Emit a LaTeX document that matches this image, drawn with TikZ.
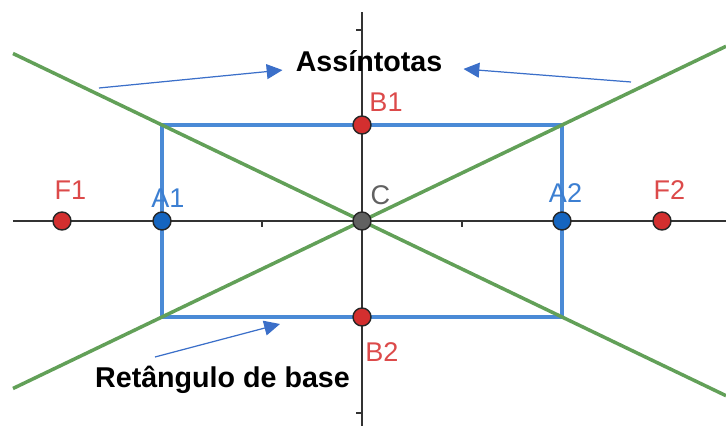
\documentclass[tikz,border=0pt]{standalone}
\usepackage{fontspec}
\setmainfont{Liberation Sans}
\usetikzlibrary{arrows.meta,calc,positioning}
\definecolor{ink}{HTML}{333333}
\definecolor{rectblue}{HTML}{4A8AD6}
\definecolor{ptblue}{HTML}{1565C0}
\definecolor{lblblue}{HTML}{3C7FD2}
\definecolor{ptred}{HTML}{D32F2F}
\definecolor{lblred}{HTML}{DC4A4A}
\definecolor{ptgray}{HTML}{616161}
\definecolor{asymgreen}{HTML}{62A058}
\definecolor{arrowblue}{HTML}{3B6FC9}
\tikzset{>=Latex,line width=.8pt,
  every node/.style={font=\fontsize{15.4pt}{18pt}\selectfont},
  axis/.style={draw=ink,line width=1.1pt},
  tick/.style={draw=ink,line width=.9pt},
  asym/.style={draw=asymgreen,line width=2pt},
  baserect/.style={draw=rectblue,line width=2.2pt},
  marker/.style={circle,draw=black!85,line width=.8pt,inner sep=0pt,minimum size=.36cm},
  ptlabel/.style={anchor=base,inner sep=0pt},
  callout/.style={anchor=base,inner sep=0pt,font=\fontsize{16.3pt}{19pt}\selectfont\bfseries},
  pointer/.style={-{Triangle[length=9pt,width=8.5pt]},draw=arrowblue,line width=.7pt}}
\begin{document}
\begin{tikzpicture}[x=2cm,y=2cm]
\useasboundingbox (-3.62,-2.05) rectangle (3.64,2.21);
% axes
\draw[axis] (-3.49,0)--(3.64,0);
\draw[axis] (0,-2.05)--(0,2.09);
\foreach \x in {-1,1} {\draw[tick] (\x,0)--(\x,-.06);}
\foreach \y in {-1.92,1.91} {\draw[tick] (0,\y)--(-.06,\y);}
% base rectangle and asymptotes
\draw[baserect] (-2,-.96) rectangle (2,.96);
\draw[asym] (-3.49,1.675)--(3.64,-1.747);
\draw[asym] (-3.49,-1.675)--(3.64,1.747);
% points
\node[marker,fill=ptred] (F1) at (-3,0) {};
\node[marker,fill=ptblue] (A1) at (-2,0) {};
\node[marker,fill=ptgray] (C) at (0,0) {};
\node[marker,fill=ptblue] (A2) at (2,0) {};
\node[marker,fill=ptred] (F2) at (3,0) {};
\node[marker,fill=ptred] (B1) at (0,.96) {};
\node[marker,fill=ptred] (B2) at (0,-.96) {};
\node[ptlabel,lblred] (F1lab) at (-2.915,.21) {F1};
\node[ptlabel,lblblue] (A1lab) at (-1.94,.13) {A1};
\node[ptlabel,ptgray] (Clab) at (.185,.16) {C};
\node[ptlabel,lblblue] (A2lab) at (2.035,.18) {A2};
\node[ptlabel,lblred] (F2lab) at (3.075,.21) {F2};
\node[ptlabel,lblred] (B1lab) at (.24,1.09) {B1};
\node[ptlabel,lblred] (B2lab) at (.20,-1.41) {B2};
% callouts
\node[callout] (assint) at (.07,1.49) {Assíntotas};
\node[callout] (retang) at (-1.395,-1.67) {Retângulo de base};
\coordinate (assintL) at (-2.63,1.33);
\coordinate (assintR) at (2.69,1.39);
\coordinate (retangTail) at (-2.07,-1.36);
\coordinate (retangTip) at (-.82,-1.03);
\draw[pointer,shorten >=.26cm] (assintL)--(assint);
\draw[pointer,shorten >=.42cm] (assintR)--(assint);
\draw[pointer] (retangTail)--(retangTip);
\end{tikzpicture}
\end{document}
